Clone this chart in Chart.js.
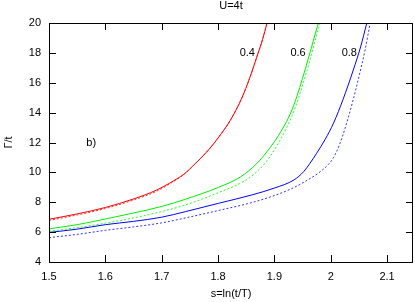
<!DOCTYPE html>
<html>
<head>
<meta charset="utf-8">
<script src="https://cdn.jsdelivr.net/npm/chart.js@4.4.1/dist/chart.umd.min.js"></script>
<style>
  body { margin: 0; background: #fff; }
</style>
</head>
<body>
<canvas id="chart" width="415" height="302"></canvas>
<script>
// tick labels
const xTicks = [1.5, 1.6, 1.7, 1.8, 1.9, 2.0, 2.1];
const yTicks = [4, 6, 8, 10, 12, 14, 16, 18, 20];

// 0.4 (red)
const sRed = [1.5, 1.55, 1.6, 1.65, 1.69, 1.715, 1.74, 1.76, 1.783, 1.80, 1.822, 1.842, 1.856, 1.869, 1.879, 1.887];
const tRed = [6.86, 7.22, 7.65, 8.22, 8.8, 9.3, 9.9, 10.6, 11.5, 12.3, 13.5, 14.96, 16.3, 17.75, 18.9, 20];
const sRedDot = [1.5, 1.55, 1.6, 1.65, 1.69, 1.715, 1.74, 1.76, 1.783, 1.80, 1.822, 1.842, 1.856, 1.869, 1.879, 1.887];
const tRedDot = [6.78, 7.15, 7.58, 8.15, 8.72, 9.25, 9.88, 10.6, 11.5, 12.3, 13.5, 14.96, 16.3, 17.75, 18.9, 20];

// 0.6 (green)
const sGreen = [1.5, 1.55, 1.6, 1.65, 1.7, 1.742, 1.801, 1.84, 1.869, 1.885, 1.9, 1.915, 1.928, 1.94, 1.95, 1.96, 1.969, 1.978];
const tGreen = [6.22, 6.5, 6.88, 7.28, 7.72, 8.2, 9.0, 9.7, 10.6, 11.3, 12.05, 12.95, 13.9, 15.1, 16.3, 17.6, 18.8, 20];
const sGreenDot = [1.5, 1.55, 1.6, 1.65, 1.7, 1.742, 1.801, 1.85, 1.878, 1.893, 1.907, 1.92, 1.932, 1.943, 1.953, 1.963, 1.972, 1.981];
const tGreenDot = [6.05, 6.3, 6.6, 6.95, 7.38, 7.82, 8.65, 9.5, 10.38, 11.1, 11.95, 12.85, 13.85, 15.0, 16.2, 17.5, 18.8, 20];

// 0.8 (blue)
const sBlue = [1.5, 1.55, 1.6, 1.65, 1.7, 1.742, 1.801, 1.86, 1.9, 1.935, 1.952, 1.963, 1.975, 1.99, 2.005, 2.022, 2.04, 2.053, 2.064];
const tBlue = [5.98, 6.2, 6.5, 6.72, 7.0, 7.37, 7.93, 8.49, 8.95, 9.5, 10.05, 10.6, 11.28, 12.2, 13.3, 14.9, 16.85, 18.4, 20];
const sBlueDot = [1.5, 1.55, 1.6, 1.65, 1.7, 1.742, 1.801, 1.86, 1.9, 1.93, 1.955, 1.978, 1.995, 2.005, 2.015, 2.025, 2.038, 2.05, 2.061, 2.07];
const tBlueDot = [5.63, 5.85, 6.12, 6.35, 6.62, 6.95, 7.45, 7.98, 8.45, 8.9, 9.4, 9.95, 10.5, 11.0, 11.8, 12.9, 14.6, 16.4, 18.2, 20];

// text put on the plot, in data coords
const notes = [
    { text: '0.4', x: 1.852, y: 18 },
    { text: '0.6', x: 1.942, y: 18 },
    { text: '0.8', x: 2.033, y: 18 },
    { text: 'b)', x: 1.575, y: 12 }
];

const FONT = '"Liberation Sans", Arial, sans-serif';

function pts(xs, ys) {
    return xs.map((x, i) => ({ x: x, y: ys[i] }));
}

function line(xs, ys, color, dotted) {
    return {
        data: pts(xs, ys),
        borderColor: color,
        borderWidth: 1,
        borderDash: dotted ? [2, 2] : [],
        pointRadius: 0,
        fill: false,
        cubicInterpolationMode: 'monotone'
    };
}

// frame + inward ticks on all four sides, like gnuplot
const framePlugin = {
    id: 'frame',
    afterDraw(chart) {
        const ctx = chart.ctx;
        const a = chart.chartArea;
        const xs = chart.scales.x, ys = chart.scales.y;
        const len = 7;
        ctx.save();
        ctx.strokeStyle = '#000';
        ctx.lineWidth = 1;
        ctx.beginPath();
        xTicks.forEach(v => {
            const px = Math.round(xs.getPixelForValue(v)) + 0.5;
            ctx.moveTo(px, a.bottom);
            ctx.lineTo(px, a.bottom - len);
            ctx.moveTo(px, a.top);
            ctx.lineTo(px, a.top + len);
        });
        yTicks.forEach(v => {
            const py = Math.round(ys.getPixelForValue(v)) + 0.5;
            ctx.moveTo(a.left, py);
            ctx.lineTo(a.left + len, py);
            ctx.moveTo(a.right, py);
            ctx.lineTo(a.right - len, py);
        });
        ctx.stroke();
        ctx.strokeRect(Math.round(a.left) + 0.5, Math.round(a.top) + 0.5,
            Math.round(a.right - a.left) - 1, Math.round(a.bottom - a.top));

        ctx.fillStyle = '#000';
        ctx.font = '11px ' + FONT;
        ctx.textAlign = 'center';
        ctx.textBaseline = 'middle';
        notes.forEach(n => {
            ctx.fillText(n.text, xs.getPixelForValue(n.x), ys.getPixelForValue(n.y));
        });
        ctx.fillText('U=4t', (a.left + a.right) / 2, 6);
        ctx.restore();
    }
};

const config = {
    type: 'line',
    data: {
        datasets: [
            line(sRed, tRed, '#ff0000', false),
            line(sRedDot, tRedDot, '#ff3030', true),
            line(sGreen, tGreen, '#00ee00', false),
            line(sGreenDot, tGreenDot, '#20ff20', true),
            line(sBlue, tBlue, '#0000ff', false),
            line(sBlueDot, tBlueDot, '#3030ff', true)
        ]
    },
    options: {
        responsive: false,
        animation: false,
        layout: { padding: { top: 23, right: 2, left: 0, bottom: 0 } },
        plugins: {
            legend: { display: false },
            tooltip: { enabled: false }
        },
        scales: {
            x: {
                type: 'linear',
                min: 1.5,
                max: 2.146,
                grid: { display: false, drawTicks: false },
                border: { display: false },
                ticks: {
                    color: '#000',
                    font: { family: FONT, size: 11 },
                    padding: 8,
                    maxRotation: 0,
                    callback: v => String(Number(v.toFixed(2)))
                },
                afterBuildTicks: scale => { scale.ticks = xTicks.map(v => ({ value: v })); },
                afterFit: scale => { scale.height = 40; },
                title: {
                    display: true,
                    text: 's=ln(t/T)',
                    color: '#000',
                    font: { family: FONT, size: 11 },
                    padding: { top: 0, bottom: 1 }
                }
            },
            y: {
                type: 'linear',
                min: 4,
                max: 20,
                grid: { display: false, drawTicks: false },
                border: { display: false },
                ticks: {
                    color: '#000',
                    font: { family: FONT, size: 11 },
                    padding: 8
                },
                afterBuildTicks: scale => { scale.ticks = yTicks.map(v => ({ value: v })); },
                afterFit: scale => { scale.width = 49; },
                title: {
                    display: true,
                    text: 'Γ/t',
                    color: '#000',
                    font: { family: FONT, size: 11 },
                    padding: { top: 2, bottom: 0 }
                }
            }
        }
    },
    plugins: [framePlugin]
};

new Chart(document.getElementById('chart').getContext('2d'), config);
</script>
</body>
</html>
